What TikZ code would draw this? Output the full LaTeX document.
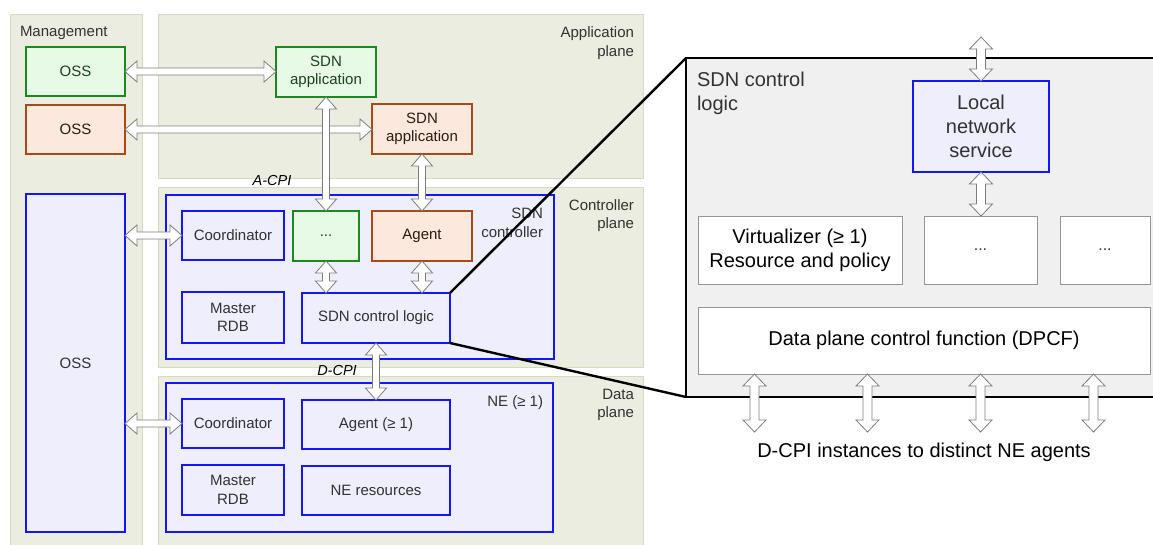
\documentclass[tikz,border=0pt]{standalone}
\usepackage{fontspec}
\setmainfont{Liberation Sans}
\usetikzlibrary{calc}
\definecolor{panelfill}{RGB}{236,237,225}
\definecolor{paneldraw}{RGB}{214,218,192}
\definecolor{bluefill}{RGB}{238,238,252}
\definecolor{bluedraw}{RGB}{20,20,255}
\definecolor{greenfill}{RGB}{230,250,230}
\definecolor{greendraw}{RGB}{30,135,30}
\definecolor{greentext}{RGB}{30,65,30}
\definecolor{orangefill}{RGB}{252,232,220}
\definecolor{orangedraw}{RGB}{165,75,25}
\definecolor{orangetext}{RGB}{40,28,20}
\definecolor{txtgray}{RGB}{50,50,50}
\definecolor{zoomfill}{RGB}{240,240,240}
\definecolor{wboxdraw}{RGB}{150,150,150}
\definecolor{arrdraw}{RGB}{125,125,125}
\def\arrW{10.5pt}\def\arrS{3.5pt}\def\arrH{12pt}
\newcommand\harr[2]{%
  \path[arr] let \p1=#1, \p2=#2 in
  (\x1,\y1) -- ({\x1+\arrH},{\y1+\arrW}) -- ({\x1+\arrH},{\y1+\arrS}) -- ({\x2-\arrH},{\y1+\arrS})
  -- ({\x2-\arrH},{\y1+\arrW}) -- (\x2,\y1) -- ({\x2-\arrH},{\y1-\arrW}) -- ({\x2-\arrH},{\y1-\arrS})
  -- ({\x1+\arrH},{\y1-\arrS}) -- ({\x1+\arrH},{\y1-\arrW}) -- cycle;}
\newcommand\varr[2]{%
  \path[arr] let \p1=#1, \p2=#2 in
  (\x1,\y1) -- ({\x1+\arrW},{\y1-\arrH}) -- ({\x1+\arrS},{\y1-\arrH}) -- ({\x1+\arrS},{\y2+\arrH})
  -- ({\x1+\arrW},{\y2+\arrH}) -- (\x1,\y2) -- ({\x1-\arrW},{\y2+\arrH}) -- ({\x1-\arrS},{\y2+\arrH})
  -- ({\x1-\arrS},{\y1-\arrH}) -- ({\x1-\arrW},{\y1-\arrH}) -- cycle;}
\begin{document}
\begin{tikzpicture}[x=1pt,y=-1pt,
  every node/.style={font=\fontsize{15}{18.5}\selectfont, inner sep=0pt, outer sep=0pt},
  panel/.style={draw=paneldraw, fill=panelfill, line width=0.8pt},
  lbl/.style={text=txtgray, align=right},
  bluebox/.style={draw=bluedraw, fill=bluefill, line width=1.3pt, text=txtgray, align=center},
  greenbox/.style={draw=greendraw, fill=greenfill, line width=1.3pt, text=greentext, align=center},
  orangebox/.style={draw=orangedraw, fill=orangefill, line width=1.3pt, text=orangetext, align=center},
  cpi/.style={font=\fontsize{14.5}{16}\selectfont\itshape, text=black},
  arr/.style={draw=arrdraw, fill=white, line width=0.8pt, line join=miter},
  zoombox/.style={draw=black, fill=zoomfill, line width=2.6pt},
  zoomline/.style={draw=black, line width=2.4pt},
  big/.style={font=\fontsize{20}{24}\selectfont},
  wbox/.style={draw=wboxdraw, fill=white, line width=0.9pt, align=center, font=\fontsize{20}{24}\selectfont, text=black}
]
\useasboundingbox (0,0) rectangle (1153,545);
\fill[white] (0,0) rectangle (1153,545);

% panels
\node[panel, minimum width=132, minimum height=541] (mgmt) at (76,284.5) {};
\node[panel, minimum width=485, minimum height=164] (appp) at (400.5,96) {};
\node[panel, minimum width=485, minimum height=180] (ctrlp) at (400.5,277) {};
\node[panel, minimum width=485, minimum height=179] (datap) at (400.5,465.5) {};
\node[lbl, anchor=west] (mgmtlbl) at (20,33) {Management};
\node[lbl, anchor=east] (applbl) at (634,43) {Application\\plane};
\node[lbl, anchor=east] (ctrllbl) at (634,215.5) {Controller\\plane};
\node[lbl, anchor=east] (datalbl) at (634,405) {Data\\plane};

% management
\node[greenbox, minimum width=99, minimum height=49] (oss1) at (75.5,71.5) {OSS};
\node[orangebox, minimum width=99, minimum height=49] (oss2) at (75.5,129.5) {OSS};
\node[bluebox, minimum width=99, minimum height=338] (oss3) at (75.5,363) {OSS};

% application plane
\node[greenbox, minimum width=100, minimum height=50] (app1) at (326,72) {SDN\\application};
\node[orangebox, minimum width=100, minimum height=50] (app2) at (422,129) {SDN\\application};

% controller
\node[bluebox, minimum width=388, minimum height=164] (ctrl) at (360,277) {};
\node[lbl, anchor=east] (ctrllbl2) at (543,223) {SDN\\controller};
\node[bluebox, minimum width=102, minimum height=49] (coord1) at (233,235.5) {Coordinator};
\node[greenbox, minimum width=66, minimum height=50] (dots1) at (326,236) {...};
\node[orangebox, minimum width=100, minimum height=50] (agent1) at (422,236) {Agent};
\node[bluebox, minimum width=102, minimum height=51] (rdb1) at (233,317.5) {Master\\RDB};
\node[bluebox, minimum width=148, minimum height=50] (scl) at (376,318) {SDN control logic};

% NE
\node[bluebox, minimum width=387, minimum height=149] (ne) at (359.5,457.5) {};
\node[lbl, anchor=east] (nelbl) at (543,403) {NE (≥ 1)};
\node[bluebox, minimum width=102, minimum height=49] (coord2) at (233,423.5) {Coordinator};
\node[bluebox, minimum width=148, minimum height=49] (agent2) at (376,424.5) {Agent (≥ 1)};
\node[bluebox, minimum width=102, minimum height=50] (rdb2) at (233,490) {Master\\RDB};
\node[bluebox, minimum width=148, minimum height=49] (neres) at (376,490.5) {NE resources};

\node[cpi] (acpi) at (272,181) {A-CPI};
\node[cpi] (dcpi) at (337,371) {D-CPI};

% left arrows
\harr{(oss1.east)}{(app1.west)}
\harr{(oss2.east)}{(app2.west)}
\harr{(oss3.east |- coord1.west)}{(coord1.west)}
\harr{(oss3.east |- coord2.west)}{(coord2.west)}
\varr{(app1.south)}{(dots1.north)}
\varr{(app2.south)}{(agent1.north)}
\varr{(dots1.south)}{(scl.north)}
\varr{(agent1.south)}{(scl.north)}
\varr{(scl.south)}{(agent2.north)}

% zoom lines
\draw[zoomline] (scl.north east) -- (686,58) coordinate (znw);
\draw[zoomline] (scl.south east) -- (686,397) coordinate (zsw);

% zoomed box
\node[zoombox, minimum width=474, minimum height=339] (zoom) at (923,227.5) {};
\node[big, anchor=north west, align=left, text=txtgray] (zlbl) at (697,72.5) {SDN control\\logic};
\node[bluebox, big, minimum width=136, minimum height=91, line width=1.3pt] (lns) at (981,126.5) {Local\\network\\service};
\node[wbox, minimum width=204, minimum height=68] (virt) at (800,250) {Virtualizer (≥ 1)\\Resource and policy};
\node[wbox, minimum width=113, minimum height=68, font=\fontsize{16}{20}\selectfont, text=txtgray] (d1) at (980.5,250) {...};
\node[wbox, minimum width=90, minimum height=68, font=\fontsize{16}{20}\selectfont, text=txtgray] (d2) at (1105,250) {...};
\node[wbox, minimum width=452, minimum height=67] (dpcf) at (924,340.5) {Data plane control function (DPCF)};
\node[big] (cap) at (924,452) {D-CPI instances to distinct NE agents};

% right arrows
\def\arrW{11.5pt}\def\arrS{4.5pt}\def\arrH{12pt}
\coordinate (lnstop) at (981,37);
\coordinate (capline) at (924,432);
\varr{(lnstop)}{(lns.north)}
\varr{(lns.south)}{(d1.north)}
\foreach \f/\k in {0.125/1,0.375/2,0.625/3,0.875/4}{
  \coordinate (p\k) at ($(dpcf.south west)!\f!(dpcf.south east)$);
  \varr{(p\k)}{(p\k |- capline)}
}
\end{tikzpicture}
\end{document}
